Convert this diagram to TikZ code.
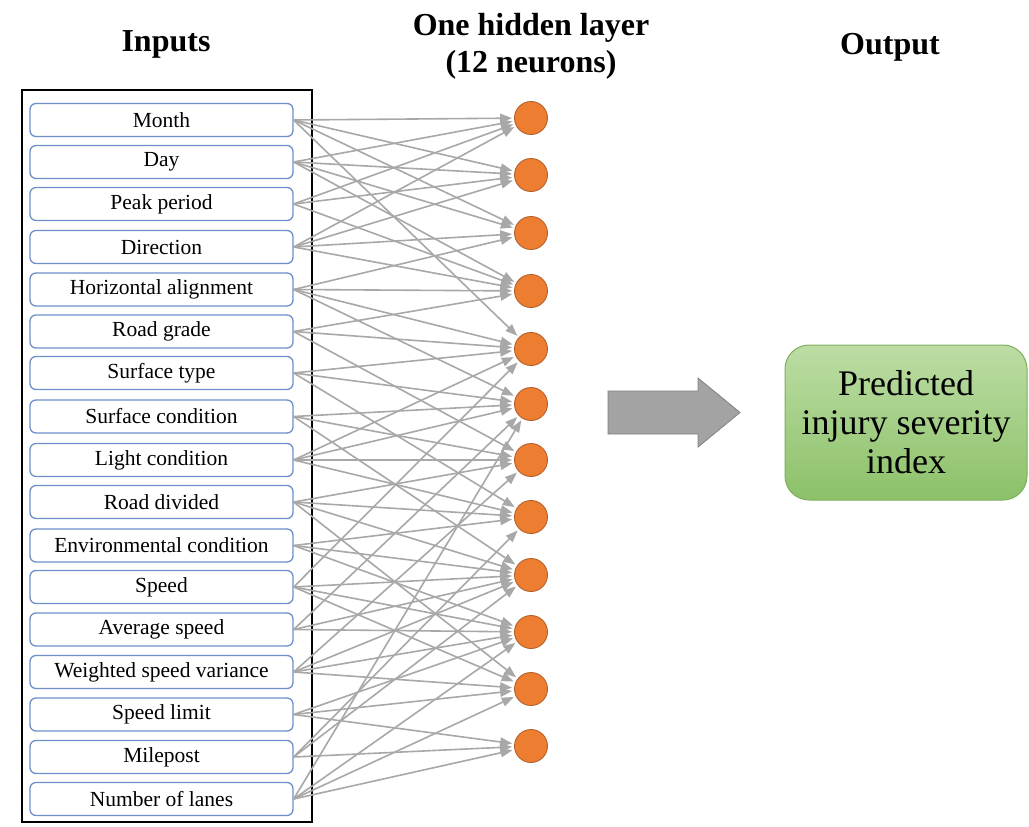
\documentclass[tikz,border=0pt]{standalone}
\usepackage{fontspec}
\setmainfont{Liberation Serif}
\usetikzlibrary{arrows.meta}

\definecolor{boxblue}{HTML}{6F8FCB}
\definecolor{neuronfill}{HTML}{ED7D31}
\definecolor{neuronedge}{HTML}{B5612B}
\definecolor{linkgray}{HTML}{A8A8A8}
\definecolor{flowfill}{HTML}{A3A3A3}
\definecolor{flowedge}{HTML}{7F7F7F}
\definecolor{outtop}{HTML}{BCDDA4}
\definecolor{outbottom}{HTML}{8CC169}
\definecolor{outedge}{HTML}{7FAE5E}

\begin{document}
\begin{tikzpicture}[x=1pt,y=-1pt,
  inputbox/.style={draw=boxblue, line width=1.3pt, rounded corners=6pt, fill=white,
    minimum width=263pt, minimum height=33pt, inner sep=0pt,
    font=\fontsize{21.5}{24}\selectfont},
  neuron/.style={circle, fill=neuronfill, draw=neuronedge, line width=0.9pt,
    minimum size=33pt, inner sep=0pt},
  link/.style={draw=linkgray, line width=1.6pt, shorten >=2pt,
    -{Triangle[length=12pt,width=9pt]}},
  heading/.style={font=\bfseries\fontsize{32}{37}\selectfont, align=center, inner sep=0pt},
  outbox/.style={draw=outedge, line width=1pt, rounded corners=24pt,
    top color=outtop, bottom color=outbottom, minimum width=242pt, minimum height=155pt,
    align=center, inner sep=0pt, font=\fontsize{36}{39}\selectfont}]

\useasboundingbox (0,0) rectangle (1029,827);
\fill[white] (0,0) rectangle (1029,827);

% column headings
\node[heading] (hin) at (166,44) {Inputs};
\node[heading] (hhid) at (531,46) {One hidden layer\\(12 neurons)};
\node[heading] (hout) at (890,47) {Output};

% frame round the input variables
\draw[line width=1.8pt] (22,90) rectangle (312,822);

% input variables
\foreach \n/\y/\t in {
  1/120/Month, 2/162/Day, 3/204/Peak period, 4/247/Direction,
  5/289.5/Horizontal alignment, 6/331.5/Road grade, 7/373/Surface type,
  8/416.5/Surface condition, 9/460/Light condition, 10/502/Road divided,
  11/545.5/Environmental condition, 12/587/Speed, 13/629.5/Average speed,
  14/672/Weighted speed variance, 15/714.5/Speed limit, 16/757/Milepost,
  17/799/Number of lanes}
  \node[inputbox] (in\n) at (161.5,\y) {\t};

% hidden neurons
\foreach \k/\y in {1/118, 2/175, 3/233, 4/291, 5/349, 6/404,
                   7/460, 8/517, 9/575, 10/632, 11/689, 12/746}
  \node[neuron] (h\k) at (531,\y) {};

% weighted connections from inputs to hidden neurons
\foreach \i/\j in {
  1/1, 1/2, 1/3, 1/5,
  2/1, 2/2, 2/3, 2/4,
  3/1, 3/2, 3/4,
  4/1, 4/2, 4/3, 4/4,
  5/3, 5/4, 5/5, 5/6,
  6/4, 6/5, 6/7,
  7/5, 7/6, 7/8,
  8/6, 8/7, 8/9,
  9/5, 9/6, 9/7, 9/8,
  10/7, 10/8, 10/9, 10/11,
  11/8, 11/9, 11/10,
  12/5, 12/9, 12/10, 12/11,
  13/6, 13/9, 13/10,
  14/7, 14/9, 14/10, 14/11,
  15/10, 15/11, 15/12,
  16/8, 16/9, 16/12,
  17/6, 17/10, 17/11, 17/12}
  \draw[link] (in\i.east) -- (h\j);

% flow arrow towards the output
\filldraw[fill=flowfill, draw=flowedge, line width=0.8pt]
  (608,391) -- (698,391) -- (698,378) -- (740,412.5) -- (698,447)
  -- (698,434) -- (608,434) -- cycle;

% output
\node[outbox] (out) at (906,422.5) {Predicted\\injury severity\\index};
\end{tikzpicture}
\end{document}
